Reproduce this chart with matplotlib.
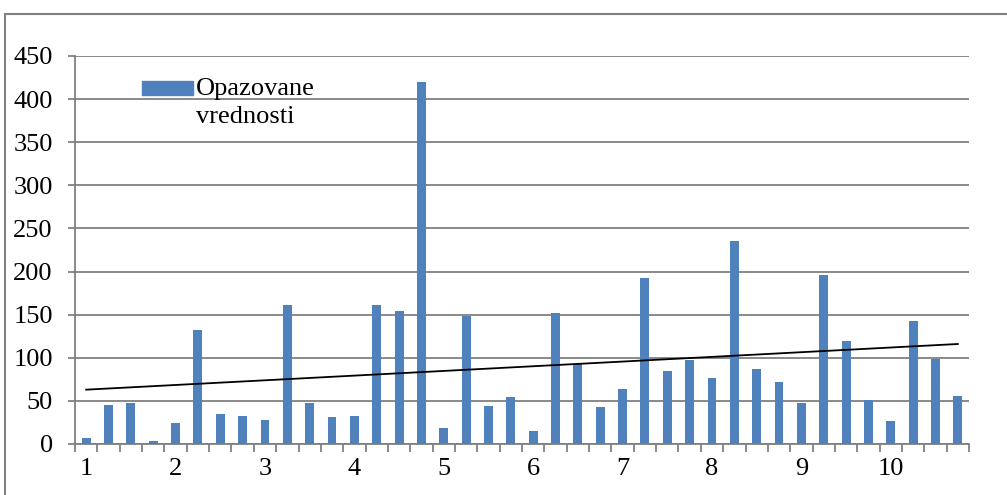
import matplotlib.pyplot as plt
import numpy as np
from matplotlib.patches import Rectangle

plt.rcParams['font.family'] = ['Liberation Serif', 'DejaVu Serif']

# Opazovane vrednosti po obdobjih (40 meritev)
vrednosti = [7, 45, 47, 3, 24, 132, 35, 32, 28, 161,
             48, 31, 33, 161, 154, 420, 18, 149, 44, 54,
             15, 152, 93, 43, 64, 193, 85, 98, 77, 236,
             87, 72, 47, 196, 120, 51, 27, 143, 99, 56]
oznake = ['1', '2', '3', '4', '5', '6', '7', '8', '9', '10']
yticks = [0, 50, 100, 150, 200, 250, 300, 350, 400, 450]

W, H = 1007, 495
fig = plt.figure(figsize=(W / 100, H / 100), dpi=100)
ax = fig.add_axes([75 / W, 1 - 444 / H, (969 - 75) / W, (444 - 56) / H])

x = np.arange(len(vrednosti))
ax.bar(x, vrednosti, width=0.4, color='#4F81BD', zorder=3)

# linearni trend
k, n = np.polyfit(x, vrednosti, 1)
ax.plot(x, k * x + n, color='black', lw=1.3, zorder=4)

ax.set_xlim(-0.5, len(vrednosti) - 0.5)
ax.set_ylim(0, 450)
ax.set_yticks(yticks)
ax.set_yticklabels([str(t) for t in yticks])
ax.set_xticks(x[::4])
ax.set_xticklabels(oznake)
ax.set_xticks(np.arange(len(vrednosti) + 1) - 0.5, minor=True)

gray = '#808080'
ax.yaxis.grid(True, color=gray, lw=1.3, zorder=1)
ax.tick_params(axis='y', length=5, width=1.3, color=gray, pad=11,
               labelsize=19)
ax.tick_params(axis='x', which='major', length=0, pad=10, labelsize=19)
ax.tick_params(axis='x', which='minor', length=6, width=1.3, color=gray)
for s in ['top', 'right']:
    ax.spines[s].set_visible(False)
for s in ['left', 'bottom']:
    ax.spines[s].set_color(gray)
    ax.spines[s].set_linewidth(1.3)

# legenda
fig.patches.append(Rectangle((142 / W, 1 - 95 / H), 51 / W, 14 / H,
                             transform=fig.transFigure, color='#4F81BD'))
fig.text(196 / W, 1 - 78 / H, 'Opazovane\nvrednosti', fontsize=19,
         va='top', ha='left', linespacing=1.38)

# okvir grafikona
fig.patches.append(Rectangle((4.5 / W, -0.1), 1.2, 1.1 - 13.5 / H,
                             transform=fig.transFigure, fill=False,
                             edgecolor=gray, lw=1.5))

fig.savefig('out.png', dpi=100)
